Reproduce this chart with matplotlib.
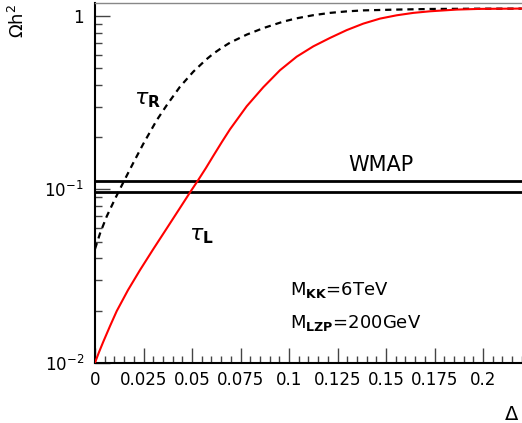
import matplotlib
matplotlib.use("Agg")
import matplotlib.pyplot as plt
from matplotlib.ticker import FixedLocator, FixedFormatter, NullFormatter

plt.rcParams['font.family'] = ['DejaVu Sans']
plt.rcParams['mathtext.fontset'] = 'dejavusans'

# ---------------- data ----------------
tauR_x = [0, 0.00258, 0.00603, 0.01031, 0.01459, 0.01974, 0.02490, 0.03180, 0.03696,
          0.04381, 0.05067, 0.05722, 0.06098, 0.06546, 0.06959, 0.07820, 0.08675,
          0.09706, 0.10397, 0.11253, 0.12113, 0.12974, 0.13830, 0.15552, 0.17268,
          0.19845, 0.22]
tauR_y = [0.04529, 0.05567, 0.06982, 0.08813, 0.10977, 0.14228, 0.18323, 0.25049, 0.30587,
          0.39128, 0.47772, 0.56051, 0.60701, 0.65752, 0.70260, 0.78177, 0.85235,
          0.92934, 0.97119, 1.0121, 1.0435, 1.0646, 1.0788, 1.0904, 1.0990,
          1.1035, 1.1050]

tauL_x = [0, 0.00206, 0.00428, 0.00773, 0.01119, 0.01701, 0.02320, 0.02990, 0.03696,
          0.04381, 0.04897, 0.05325, 0.05722, 0.06098, 0.06546, 0.06959, 0.07820,
          0.08675, 0.09536, 0.10397, 0.11253, 0.12113, 0.12974, 0.13830, 0.14691,
          0.15552, 0.16407, 0.17268, 0.18644, 0.19845, 0.22]
tauL_y = [0.0100, 0.01150, 0.01322, 0.01626, 0.01985, 0.02625, 0.03425, 0.04498, 0.05952,
          0.07817, 0.09609, 0.11345, 0.13310, 0.15614, 0.18820, 0.22224, 0.30185,
          0.38867, 0.48729, 0.58329, 0.66895, 0.74817, 0.83001, 0.90484, 0.96717,
          1.0107, 1.0435, 1.0659, 1.0904, 1.1005, 1.1050]

wmap_levels = [0.097, 0.112]

xtick_values = [0, 0.025, 0.05, 0.075, 0.1, 0.125, 0.15, 0.175, 0.2]
xtick_labels = ['0', '0.025', '0.05', '0.075', '0.1', '0.125', '0.15', '0.175', '0.2']
ytick_values = [0.01, 0.1, 1]
ytick_labels = [r'$10^{-2}$', r'$10^{-1}$', '1']

# ---------------- figure ----------------
W, H = 522, 423
fig = plt.figure(figsize=(W / 100, H / 100), dpi=100)
left, right, top, bottom = 95, 521.8, 3, 362.7
ax = fig.add_axes([left / W, 1 - bottom / H, (right - left) / W, (bottom - top) / H])

ax.set_yscale('log')
ax.set_xlim(0, 0.22)
ax.set_ylim(0.01, 1.19)

for lvl in wmap_levels:
    ax.axhline(lvl, color='black', lw=2.0, zorder=2)

ax.plot(tauR_x, tauR_y, color='black', lw=1.6, dashes=(2.8, 2.2),
        dash_joinstyle='round', zorder=3)
ax.plot(tauL_x, tauL_y, color='red', lw=1.5, solid_joinstyle='round', zorder=3)

# ticks
ax.xaxis.set_major_locator(FixedLocator(xtick_values))
ax.xaxis.set_major_formatter(FixedFormatter(xtick_labels))
minor_x = [i * 0.005 for i in range(0, 45)]
ax.xaxis.set_minor_locator(FixedLocator(minor_x))
ax.xaxis.set_minor_formatter(NullFormatter())

ax.yaxis.set_major_locator(FixedLocator(ytick_values))
ax.yaxis.set_major_formatter(FixedFormatter(ytick_labels))
minor_y = [m * d for d in (0.01, 0.1) for m in range(2, 10)]
ax.yaxis.set_minor_locator(FixedLocator(minor_y))
ax.yaxis.set_minor_formatter(NullFormatter())

ax.tick_params(axis='both', which='major', direction='in', length=10.5, width=1.0,
               color='#444444', labelsize=12, top=False, right=False)
ax.tick_params(axis='both', which='minor', direction='in', length=5.2, width=1.0,
               color='#444444', top=False, right=False)
ax.tick_params(axis='x', which='major', pad=6)
ax.tick_params(axis='y', which='major', pad=8)

for s in ('left', 'bottom'):
    ax.spines[s].set_linewidth(1.5)
    ax.spines[s].set_color('black')
ax.spines['top'].set_color('#888888')
ax.spines['top'].set_linewidth(1.0)
ax.spines['right'].set_visible(False)

def ftext(px, py, s, **kw):
    fig.text(px / W, 1 - py / H, s, **kw)

ftext(18, 21, r'$\Omega$h$^{2}$', rotation=90, ha='center', va='center', fontsize=13)
ftext(519, 420, r'$\Delta$', ha='right', va='baseline', fontsize=14)
ftext(134, 104, r'$\tau_{\mathbf{R}}$', ha='left', va='baseline', fontsize=16)
ftext(189, 240, r'$\tau_{\mathbf{L}}$', ha='left', va='baseline', fontsize=16)
ftext(348, 171, 'WMAP', ha='left', va='baseline', fontsize=15)
ftext(290, 295, r'M$_{\mathbf{KK}}$=6TeV', ha='left', va='baseline', fontsize=13)
ftext(290, 328, r'M$_{\mathbf{LZP}}$=200GeV', ha='left', va='baseline', fontsize=13)

fig.savefig('out.png', dpi=100)
